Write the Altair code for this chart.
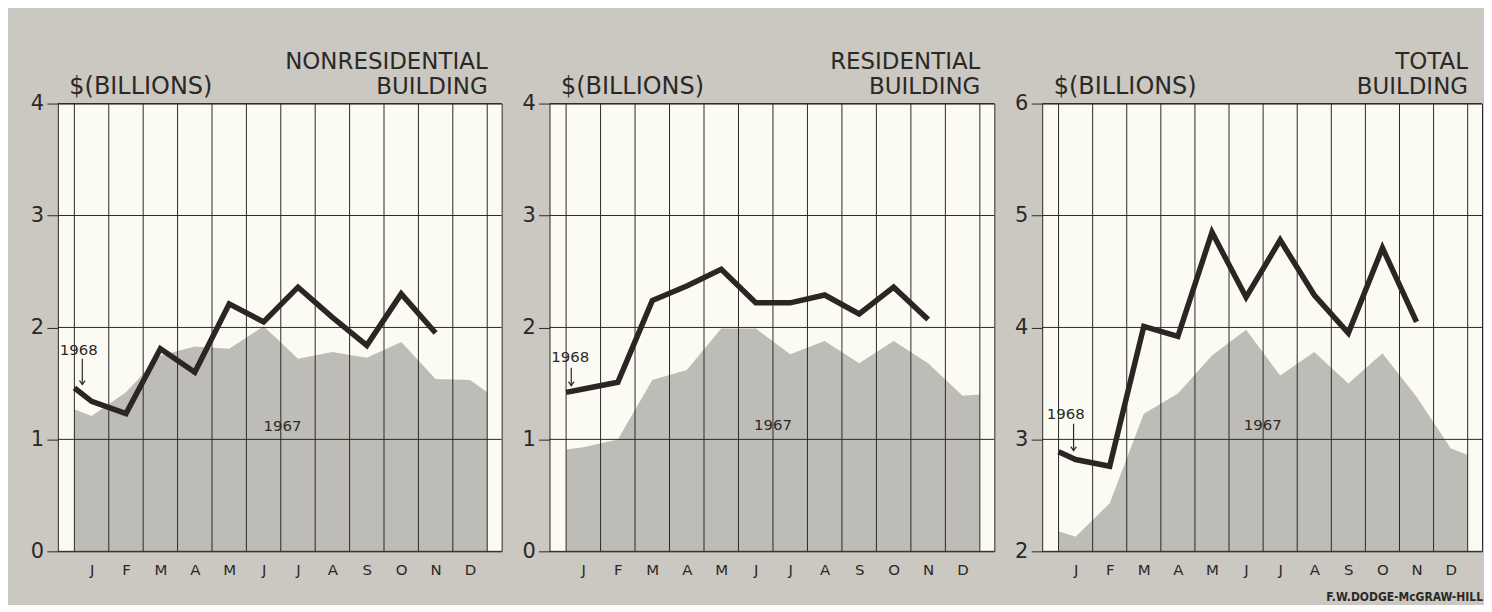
import altair as alt
import pandas as pd

# ---------------- data ----------------
MONTHS = ["J", "F", "M", "A", "M", "J", "J", "A", "S", "O", "N", "D"]
BOUNDARIES = list(range(13))  # month boundaries (vertical grid)

# Nonresidential building ($ billions)
NONRES_1967 = [1.21, 1.42, 1.75, 1.83, 1.81, 2.01, 1.72, 1.78, 1.73, 1.87, 1.54, 1.53]
NONRES_1967_START = 1.27
NONRES_1967_END = 1.42
NONRES_1968 = [1.34, 1.23, 1.81, 1.60, 2.21, 2.05, 2.36, 2.09, 1.84, 2.30, 1.95]
NONRES_1968_START = 1.46

# Residential building
RES_1967 = [0.93, 1.00, 1.53, 1.62, 1.99, 1.99, 1.76, 1.88, 1.68, 1.88, 1.68, 1.39]
RES_1967_START = 0.91
RES_1967_END = 1.40
RES_1968 = [1.45, 1.51, 2.24, 2.37, 2.52, 2.22, 2.22, 2.29, 2.12, 2.36, 2.07]
RES_1968_START = 1.42

# Total building
TOT_1967 = [2.13, 2.43, 3.23, 3.41, 3.75, 3.98, 3.57, 3.78, 3.50, 3.77, 3.38, 2.92]
TOT_1967_START = 2.18
TOT_1967_END = 2.86
TOT_1968 = [2.82, 2.76, 4.01, 3.92, 4.85, 4.27, 4.78, 4.29, 3.95, 4.71, 4.05]
TOT_1968_START = 2.89

TITLES = [["NONRESIDENTIAL", "BUILDING"], ["RESIDENTIAL", "BUILDING"], ["TOTAL", "BUILDING"]]
Y_RANGES = [(0, 4), (0, 4), (2, 6)]
Y_TITLE = "$(BILLIONS)"
SOURCE = "F.W.DODGE-McGRAW-HILL"
LABEL_1968 = "1968"
LABEL_1967 = "1967"

# ---------------- styling / layout ----------------
FONT = "DejaVu Sans"
BG = "#cac8c1"
PLOT_BG = "#fcfbf3"
AREA = "#bebcb6"
INK = "#2b2927"
LINE = "#292624"
H = 449
WIDTHS = [445, 446, 441]

# annotation anchors (month units, $ billions)
ANNOT = [
    dict(t68=(0.13, 1.80), arrow=(0.23, 1.72, 1.49), t67=(6.05, 1.12)),
    dict(t68=(0.12, 1.74), arrow=(0.15, 1.64, 1.48), t67=(6.0, 1.13)),
    dict(t68=(0.21, 3.23), arrow=(0.44, 3.14, 2.90), t67=(5.99, 3.13)),
]

SERIES = [
    (NONRES_1967_START, NONRES_1967, NONRES_1967_END, NONRES_1968_START, NONRES_1968),
    (RES_1967_START, RES_1967, RES_1967_END, RES_1968_START, RES_1968),
    (TOT_1967_START, TOT_1967, TOT_1967_END, TOT_1968_START, TOT_1968),
]


def make_panel(i):
    s67, v67, e67, s68, v68 = SERIES[i]
    ymin, ymax = Y_RANGES[i]
    w = WIDTHS[i]
    ann = ANNOT[i]
    xs = alt.Scale(domain=[-0.48, 12.42], nice=False, zero=False)
    ys = alt.Scale(domain=[ymin, ymax], nice=False, zero=False)
    centers = [k + 0.5 for k in range(len(MONTHS))]
    df67 = pd.DataFrame({"pos": [0.0] + centers + [12.0], "value": [s67] + v67 + [e67]})
    df68 = pd.DataFrame({"pos": [0.0] + centers[: len(v68)], "value": [s68] + v68})
    yticks = list(range(ymin, ymax + 1))
    label_expr = "[" + ",".join(f"'{m}'" for m in MONTHS) + "][floor(datum.value)]"

    x_axis = alt.Axis(
        values=centers, labelExpr=label_expr, grid=False, ticks=False, domain=False,
        labelFontSize=15, labelPadding=11, labelColor=INK, labelFont=FONT,
        labelFlush=False, labelOverlap=False, title=None)
    y_axis = alt.Axis(
        values=yticks, grid=False, domain=False, tickSize=11, tickColor=INK,
        labelFontSize=21, labelAlign="center", labelBaseline="middle", labelPadding=10,
        labelColor=INK, labelFont=FONT,
        title=Y_TITLE, titleAngle=0, titleAlign="left", titleBaseline="alphabetic",
        titleX=11, titleY=-10, titleFontSize=24, titleFontWeight="normal",
        titleColor=INK, titleFont=FONT)

    def X(f):
        return alt.X(f, scale=xs, axis=x_axis)

    def Y(f):
        return alt.Y(f, scale=ys, axis=y_axis)

    area = alt.Chart(df67).mark_area(color=AREA, opacity=1).encode(
        x=X("pos:Q"), y=Y("value:Q"), y2=alt.datum(ymin))
    vgrid = alt.Chart(pd.DataFrame({"pos": BOUNDARIES})).mark_rule(
        color=INK, strokeWidth=1).encode(x=X("pos:Q"))
    hgrid = alt.Chart(pd.DataFrame({"value": yticks})).mark_rule(
        color=INK, strokeWidth=1).encode(y=Y("value:Q"))
    line = alt.Chart(df68).mark_line(color=LINE, strokeWidth=5.5, strokeJoin="miter",
                                     strokeCap="butt").encode(x=X("pos:Q"), y=Y("value:Q"))
    lab_df = pd.DataFrame({"pos": [ann["t68"][0], ann["t67"][0]],
                           "value": [ann["t68"][1], ann["t67"][1]],
                           "text": [LABEL_1968, LABEL_1967]})
    labels = alt.Chart(lab_df).mark_text(font=FONT, fontSize=15, color=INK,
                                         baseline="middle", align="center").encode(
        x=X("pos:Q"), y=Y("value:Q"), text="text:N")
    arr_df = pd.DataFrame({"pos": [ann["arrow"][0]], "value": [ann["arrow"][1]],
                           "tip": [ann["arrow"][2]]})
    shaft = alt.Chart(arr_df).mark_rule(color=INK, strokeWidth=1.2).encode(
        x=X("pos:Q"), y=Y("value:Q"), y2="tip:Q")
    head = alt.Chart(arr_df).mark_point(shape="M-0.7,-1L0,0L0.7,-1", filled=False, color=INK,
                                        size=64, strokeWidth=1.2, opacity=1).encode(
        x=X("pos:Q"), y=alt.Y("tip:Q", scale=ys, axis=y_axis))
    title = alt.Chart(pd.DataFrame({"k": [0]})).mark_text(
        text=TITLES[i], font=FONT, fontSize=23, color=INK, align="right",
        baseline="alphabetic", lineHeight=25).encode(
        x=alt.value(w - 14), y=alt.value(-35))
    layers = [area, vgrid, hgrid, line, labels, shaft, head, title]
    if i == 2:
        footer = alt.Chart(pd.DataFrame({"k": [0]})).mark_text(
            text=SOURCE, font="Liberation Sans Narrow, DejaVu Sans Condensed, sans-serif",
            fontWeight="bold", fontSize=12,
            color=INK, align="right", baseline="alphabetic").encode(
            x=alt.value(w + 1), y=alt.value(H + 50))
        layers.append(footer)
    return alt.layer(*layers).properties(width=w, height=H)


chart = alt.hconcat(make_panel(0), make_panel(1), make_panel(2), spacing=18).properties(
    background=BG,
    padding={"left": 21, "top": 41, "right": 0, "bottom": 0},
).configure_view(fill=PLOT_BG, stroke=INK, strokeWidth=1)

chart.save("out.html", embed_options={"renderer": "svg", "actions": False})
